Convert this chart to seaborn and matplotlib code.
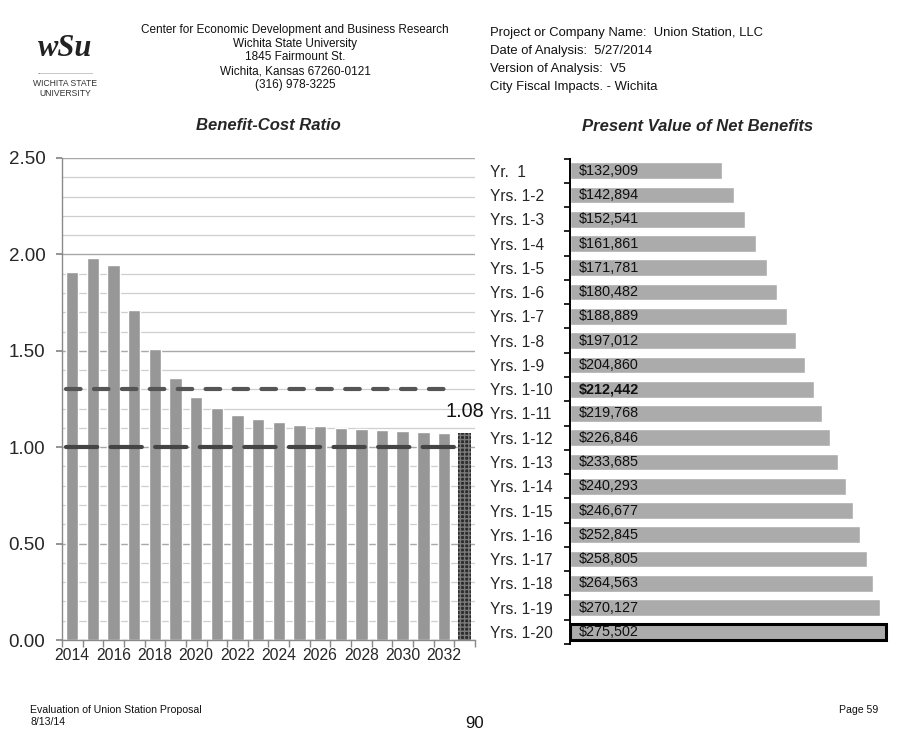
import pandas as pd
import matplotlib.pyplot as plt
import seaborn as sns
from matplotlib.ticker import MultipleLocator, FixedLocator

# Benefit-cost ratio by year
years = [str(y) for y in range(2014, 2034)]
ratios = [1.91, 1.98, 1.945, 1.71, 1.51, 1.36, 1.26, 1.205, 1.167, 1.147,
          1.13, 1.115, 1.11, 1.10, 1.097, 1.09, 1.085, 1.08, 1.075, 1.076]
final_label = "1.08"
target_ratio = 1.30
breakeven_ratio = 1.00

# Present value of net benefits (cumulative)
periods = ["Yr.  1"] + [f"Yrs. 1-{i}" for i in range(2, 21)]
pv_values = [132909, 142894, 152541, 161861, 171781, 180482, 188889, 197012,
             204860, 212442, 219768, 226846, 233685, 240293, 246677, 252845,
             258805, 264563, 270127, 275502]

bc_df = pd.DataFrame({"year": years, "ratio": ratios})
pv_df = pd.DataFrame({"period": periods, "value": pv_values})

sns.set_theme(style="white")
plt.rcParams["font.family"] = ["Liberation Sans", "DejaVu Sans"]
narrow = ["Liberation Sans Narrow", "Liberation Sans", "DejaVu Sans"]

fig = plt.figure(figsize=(9.06, 7.4), dpi=100)

# ---- left chart: benefit-cost ratio
ax1 = fig.add_axes([0.0684, 0.1351, 0.4558, 0.6514])
sns.barplot(data=bc_df, x="year", y="ratio", color="#979797", saturation=1,
            width=0.6, ax=ax1)
last = ax1.patches[len(years) - 1]
last.set_facecolor("#2a2a2a")
last.set_edgecolor("#7a7a7a")
last.set_linewidth(0)
last.set_hatch("++++")

ax1.set_ylim(0, 2.5)
ax1.set_xlim(-0.5, len(years) - 0.5)
ax1.yaxis.set_major_locator(MultipleLocator(0.5))
ax1.yaxis.set_minor_locator(MultipleLocator(0.1))
ax1.grid(axis="y", which="minor", color="#cfcfcf", linewidth=0.9)
ax1.grid(axis="y", which="major", color="#a8a8a8", linewidth=1.0)
ax1.set_axisbelow(True)
ax1.set_yticks([0, 0.5, 1.0, 1.5, 2.0, 2.5])
ax1.set_yticklabels([f"{v:.2f}" for v in [0, 0.5, 1.0, 1.5, 2.0, 2.5]], fontsize=13.5)
ax1.set_xticks(range(0, len(years), 2))
ax1.set_xticklabels(years[::2], fontsize=11.3)
ax1.xaxis.set_minor_locator(FixedLocator([i - 0.5 for i in range(len(years) + 1)]))
ax1.tick_params(axis="x", which="major", length=0, pad=6)
ax1.tick_params(axis="x", which="minor", bottom=True, length=5, color="#888888")
ax1.tick_params(axis="y", which="major", left=True, length=4, color="#888888", pad=8)
ax1.tick_params(axis="y", which="minor", left=False)
for s in ["top", "right"]:
    ax1.spines[s].set_visible(False)
for s in ["left", "bottom"]:
    ax1.spines[s].set_color("#8a8a8a")
    ax1.spines[s].set_linewidth(1.0)
ax1.set_xlabel("")
ax1.set_ylabel("")

ax1.hlines(target_ratio, -0.3, len(years) - 1.4, colors="#555555", linewidth=3.0,
           linestyles=(0, (3.5, 3.2)), capstyle="round")
ax1.hlines(breakeven_ratio, -0.3, len(years) - 1.4, colors="#444444", linewidth=3.0,
           linestyles=(0, (7.5, 3.2)), capstyle="round")
ax1.annotate(final_label, xy=(len(years) - 1, ratios[-1]), xytext=(0, 8),
             textcoords="offset points", ha="center", va="bottom", fontsize=14.3,
             color="#111111")
ax1.set_title("Benefit-Cost Ratio", fontsize=12, fontweight="bold", style="italic",
              pad=20)

# ---- right chart: present value of net benefits
ax2 = fig.add_axes([0.6291, 0.1297, 0.3532, 0.656])
sns.barplot(data=pv_df, x="value", y="period", orient="h", color="#ababab",
            saturation=1, width=0.69, ax=ax2)
top = ax2.patches[len(periods) - 1]
top.set_edgecolor("black")
top.set_linewidth(2.2)
ax2.set_xlim(0, 279000)
ax2.set_ylim(len(periods) - 0.5, -0.5)
ax2.set_xticks([])
ax2.set_yticks(range(len(periods)))
ax2.set_yticklabels(periods, ha="left", fontsize=11.2)
ax2.yaxis.set_minor_locator(FixedLocator([i - 0.5 for i in range(len(periods) + 1)]))
ax2.tick_params(axis="y", which="major", length=0, pad=57.6)
ax2.tick_params(axis="y", which="minor", left=True, length=4, width=1.2, color="black")
for s in ["top", "right", "bottom"]:
    ax2.spines[s].set_visible(False)
ax2.spines["left"].set_color("black")
ax2.spines["left"].set_linewidth(1.4)
ax2.set_xlabel("")
ax2.set_ylabel("")
for i, v in enumerate(pv_values):
    ax2.annotate(f"${v:,}", xy=(0, i), xytext=(6.5, 0), textcoords="offset points",
                 ha="left", va="center", fontsize=10.4, color="#111111",
                 fontweight="bold" if i == 9 else "normal")
ax2.set_title("Present Value of Net Benefits", fontsize=12, fontweight="bold",
              style="italic", pad=20)
ax2.title.set_position((0.4, 1.0))

# ---- header
center_lines = ["Center for Economic Development and Business Research",
                "Wichita State University", "1845 Fairmount St.",
                "Wichita, Kansas 67260-0121", "(316) 978-3225"]
for k, line in enumerate(center_lines):
    fig.text(295 / 906, 1 - (30 + 13.7 * k) / 740, line, ha="center", va="center",
             fontsize=8.5, color="#111111")
project_lines = ["Project or Company Name:  Union Station, LLC",
                 "Date of Analysis:  5/27/2014", "Version of Analysis:  V5",
                 "City Fiscal Impacts. - Wichita"]
for k, line in enumerate(project_lines):
    fig.text(490 / 906, 1 - (33 + 18 * k) / 740, line, ha="left", va="center",
             fontsize=9.4, color="#111111")

# logo
fig.text(65 / 906, 1 - 48 / 740, "wSu", ha="center", va="center", fontsize=22,
         fontweight="bold", style="italic", family=["Liberation Serif", "DejaVu Serif"],
         color="#222222")
fig.text(65 / 906, 1 - 72 / 740, "." * 28, ha="center", va="center", fontsize=5,
         color="#333333")
fig.text(65 / 906, 1 - 83 / 740, "WICHITA STATE", ha="center", va="center",
         fontsize=6.2, color="#333333")
fig.text(65 / 906, 1 - 94 / 740, "UNIVERSITY", ha="center", va="center",
         fontsize=6.2, color="#333333")

# ---- footer
fig.text(30 / 906, 1 - 710 / 740, "Evaluation of Union Station Proposal", ha="left",
         va="center", fontsize=7.6, color="#111111", family=narrow)
fig.text(30 / 906, 1 - 722 / 740, "8/13/14", ha="left", va="center", fontsize=7.6,
         color="#111111", family=narrow)
fig.text(475 / 906, 1 - 724 / 740, "90", ha="center", va="center", fontsize=12,
         color="#111111", family=narrow)
fig.text(878 / 906, 1 - 710 / 740, "Page 59", ha="right", va="center", fontsize=7.6,
         color="#111111", family=narrow)

plt.savefig("out.png", dpi=100)
